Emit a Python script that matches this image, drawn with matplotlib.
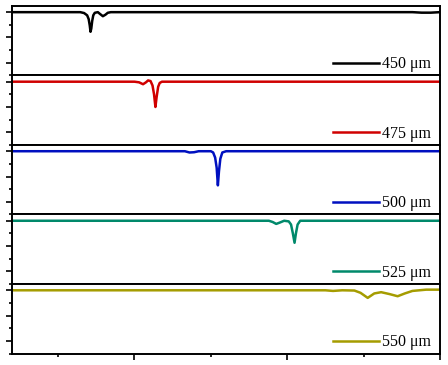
import matplotlib.pyplot as plt
from matplotlib.ticker import MultipleLocator

# transmission spectra, baseline normalised to 1
labels = ["450 \u03bcm", "475 \u03bcm", "500 \u03bcm", "525 \u03bcm", "550 \u03bcm"]
colors = ["#000000", "#d00000", "#0010c0", "#00896b", "#a59c00"]

x_450 = [0.2, 0.645, 0.67, 0.69, 0.70, 0.707, 0.712, 0.717, 0.723, 0.73, 0.74, 0.76,
         0.775, 0.793, 0.81, 0.825, 0.845, 2.82, 2.88, 2.94, 3.0]
y_450 = [1.0, 1.0, 0.993, 0.975, 0.945, 0.895, 0.845, 0.87, 0.93, 0.975, 0.995, 1.0,
         0.985, 0.968, 0.98, 0.995, 1.0, 1.0, 0.996, 0.996, 1.0]

x_475 = [0.2, 1.0, 1.03, 1.056, 1.075, 1.089, 1.105, 1.118, 1.128, 1.137, 1.145,
         1.155, 1.165, 1.18, 3.0]
y_475 = [1.0, 1.0, 0.995, 0.98, 0.995, 1.01, 1.005, 0.97, 0.9, 0.80, 0.88,
         0.96, 0.99, 1.0, 1.0]

x_500 = [0.2, 1.33, 1.36, 1.39, 1.42, 1.50, 1.515, 1.528, 1.538, 1.546, 1.553,
         1.562, 1.575, 1.60, 3.0]
y_500 = [1.0, 1.0, 0.99, 0.992, 1.0, 1.0, 0.99, 0.95, 0.87, 0.73, 0.84,
         0.94, 0.99, 1.0, 1.0]

x_525 = [0.2, 1.88, 1.905, 1.928, 1.95, 1.98, 2.01, 2.025, 2.037, 2.048, 2.057,
         2.068, 2.085, 3.0]
y_525 = [1.0, 1.0, 0.99, 0.975, 0.985, 1.0, 0.995, 0.97, 0.9, 0.826, 0.9,
         0.97, 1.0, 1.0]

x_550 = [0.2, 2.25, 2.30, 2.36, 2.44, 2.48, 2.527, 2.57, 2.615, 2.67, 2.723,
         2.77, 2.82, 2.91, 3.0]
y_550 = [1.0, 1.0, 0.995, 1.0, 0.998, 0.98, 0.94, 0.975, 0.985, 0.97, 0.953,
         0.975, 0.995, 1.005, 1.005]

series = [(x_450, y_450), (x_475, y_475), (x_500, y_500), (x_525, y_525), (x_550, y_550)]

fig, axes = plt.subplots(5, 1, figsize=(4.48, 3.65), dpi=100, sharex=True)
fig.subplots_adjust(left=0.0275, right=0.982, top=0.984, bottom=0.0315, hspace=0)

for ax, (x, y), color, label in zip(axes, series, colors, labels):
    ax.plot(x, y, color=color, lw=1.8, label=label)
    ax.set_xlim(0.2, 3.0)
    ax.set_ylim(0.5, 1.05)
    ax.yaxis.set_major_locator(MultipleLocator(0.2))
    ax.yaxis.set_minor_locator(MultipleLocator(0.1))
    ax.xaxis.set_major_locator(MultipleLocator(1.0))
    ax.xaxis.set_minor_locator(MultipleLocator(0.5))
    ax.tick_params(which="major", direction="out", length=4, width=1.2,
                   labelleft=False, labelbottom=False)
    ax.tick_params(which="minor", direction="out", length=2.2, width=1.2)
    ax.tick_params(axis="x", which="both", bottom=(ax is axes[-1]))
    for sp in ax.spines.values():
        sp.set_linewidth(1.4)
    ax.legend(loc="lower right", bbox_to_anchor=(0.986, 0.0), frameon=False,
              handlelength=2.9, handletextpad=0.15, borderaxespad=0.1, borderpad=0.1,
              prop={"family": "Liberation Serif", "size": 11.5})

fig.savefig("out.png", dpi=100)
